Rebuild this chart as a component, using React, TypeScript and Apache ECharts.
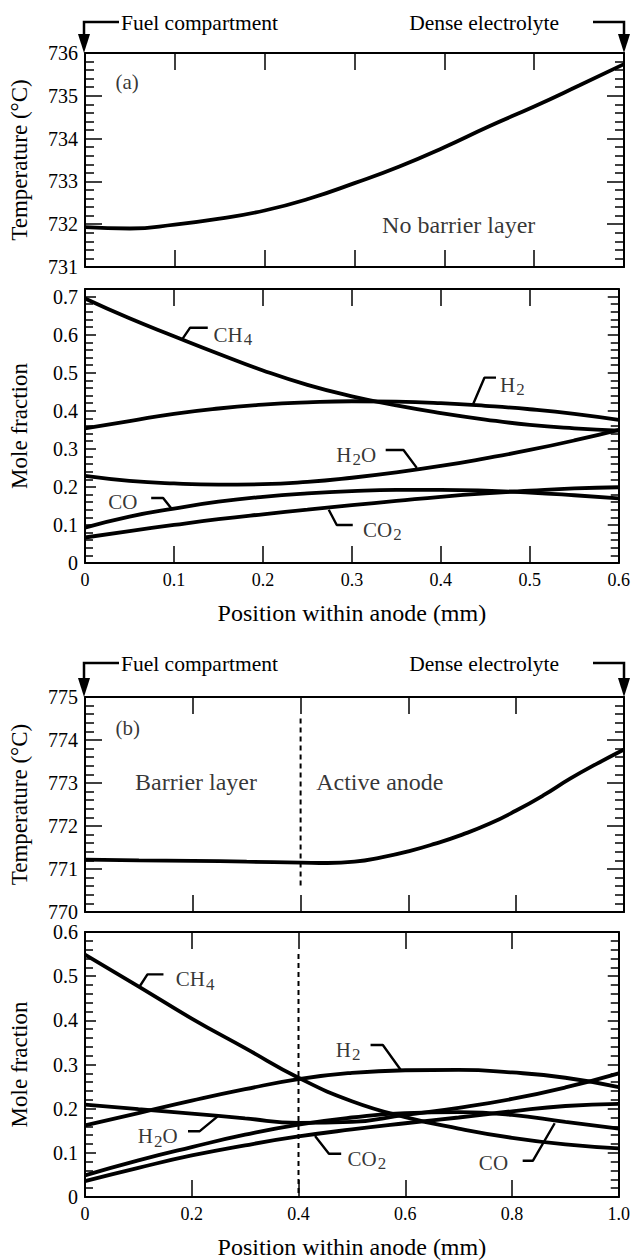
import React, { useEffect, useRef } from "react";
import * as echarts from "echarts";

// ---------- Panel (a): no barrier layer ----------
const xA = [0, 0.05, 0.1, 0.15, 0.2, 0.25, 0.3, 0.35, 0.4, 0.45, 0.5, 0.55, 0.6];
const tempA = [731.93, 731.9, 731.99, 732.13, 732.32, 732.6, 732.96, 733.35, 733.8, 734.29, 734.75, 735.24, 735.74];
const ch4A = [0.695, 0.643, 0.596, 0.55, 0.506, 0.468, 0.438, 0.414, 0.394, 0.377, 0.363, 0.354, 0.348];
const h2A = [0.354, 0.373, 0.392, 0.406, 0.416, 0.422, 0.425, 0.424, 0.42, 0.413, 0.404, 0.392, 0.376];
const h2oA = [0.229, 0.216, 0.209, 0.206, 0.207, 0.213, 0.224, 0.238, 0.255, 0.275, 0.297, 0.322, 0.35];
const coA = [0.093, 0.122, 0.143, 0.161, 0.174, 0.183, 0.189, 0.192, 0.192, 0.19, 0.185, 0.178, 0.17];
const co2A = [0.067, 0.084, 0.1, 0.115, 0.128, 0.14, 0.152, 0.163, 0.174, 0.183, 0.19, 0.196, 0.199];

// ---------- Panel (b): with barrier layer ----------
const xBT = [0, 0.1, 0.2, 0.3, 0.4, 0.45, 0.5, 0.55, 0.6, 0.65, 0.7, 0.75, 0.8, 0.85, 0.9, 0.95, 1.0];
const tempB = [771.22, 771.2, 771.19, 771.17, 771.15, 771.14, 771.17, 771.27, 771.41, 771.59, 771.8, 772.05, 772.36, 772.71, 773.1, 773.45, 773.78];
const xB = [0, 0.1, 0.2, 0.3, 0.4, 0.5, 0.6, 0.7, 0.8, 0.9, 1.0];
const ch4B = [0.549, 0.477, 0.404, 0.337, 0.27, 0.217, 0.181, 0.155, 0.134, 0.119, 0.11];
const h2B = [0.162, 0.19, 0.218, 0.244, 0.267, 0.281, 0.287, 0.288, 0.282, 0.27, 0.249];
const h2oB = [0.209, 0.199, 0.189, 0.178, 0.168, 0.17, 0.186, 0.202, 0.222, 0.248, 0.28];
const coB = [0.049, 0.083, 0.113, 0.141, 0.164, 0.18, 0.19, 0.192, 0.186, 0.17, 0.155];
const co2B = [0.036, 0.066, 0.094, 0.117, 0.137, 0.153, 0.167, 0.18, 0.194, 0.206, 0.211];

// ---------- Tick values ----------
const xTicksA = [0, 0.1, 0.2, 0.3, 0.4, 0.5, 0.6];
const xTicksB = [0, 0.2, 0.4, 0.6, 0.8, 1.0];
const tempTicksA = [731, 732, 733, 734, 735, 736];
const moleTicksA = [0, 0.1, 0.2, 0.3, 0.4, 0.5, 0.6, 0.7];
const moleMaxA = 0.72;
const tempTicksB = [770, 771, 772, 773, 774, 775];
const moleTicksB = [0, 0.1, 0.2, 0.3, 0.4, 0.5, 0.6];

// barrier / active anode interface
const interfaceX = 0.4;

const FONT = "Liberation Serif, serif";

// ---------- Layout ----------
const PLOT_L = 84;
const PLOT_R = 624;
const W = 633;
const H = 1260;
const grids = [
  { top: 53, height: 214 },
  { top: 289, height: 274 },
  { top: 697, height: 215 },
  { top: 932, height: 270 },
];

type Lbl = { main: string; sub?: string; tail?: string; x: number; y: number };

const speciesLabelsA: Lbl[] = [
  { main: "CH", sub: "4", x: 0.144, y: 0.6 },
  { main: "H", sub: "2", x: 0.466, y: 0.468 },
  { main: "H", sub: "2", tail: "O", x: 0.282, y: 0.284 },
  { main: "CO", x: 0.0256, y: 0.161 },
  { main: "CO", sub: "2", x: 0.312, y: 0.087 },
];
const leadersA = [
  [[0.109, 0.587], [0.118, 0.618], [0.138, 0.618]],
  [[0.436, 0.416], [0.449, 0.487], [0.462, 0.487]],
  [[0.338, 0.297], [0.358, 0.297], [0.373, 0.25]],
  [[0.0744, 0.171], [0.0878, 0.171], [0.0978, 0.141]],
  [[0.274, 0.14], [0.283, 0.1], [0.301, 0.1]],
];
const speciesLabelsB: Lbl[] = [
  { main: "CH", sub: "4", x: 0.169, y: 0.493 },
  { main: "H", sub: "2", x: 0.469, y: 0.333 },
  { main: "H", sub: "2", tail: "O", x: 0.098, y: 0.138 },
  { main: "CO", sub: "2", x: 0.491, y: 0.087 },
  { main: "CO", x: 0.737, y: 0.076 },
];
const leadersB = [
  [[0.102, 0.476], [0.117, 0.504], [0.147, 0.504]],
  [[0.535, 0.344], [0.558, 0.344], [0.592, 0.287]],
  [[0.193, 0.149], [0.215, 0.149], [0.248, 0.182]],
  [[0.431, 0.138], [0.457, 0.098], [0.48, 0.098]],
  [[0.82, 0.082], [0.839, 0.082], [0.88, 0.167]],
];

const panelTexts: { g: number; text: string; x: number; y: number; size: number; align: "left" | "center" }[] = [
  { g: 0, text: "(a)", x: 0.0333, y: 735.32, size: 21, align: "left" },
  { g: 0, text: "No barrier layer", x: 0.416, y: 731.98, size: 24, align: "center" },
  { g: 2, text: "(b)", x: 0.0556, y: 774.28, size: 21, align: "left" },
  { g: 2, text: "Barrier layer", x: 0.206, y: 773.02, size: 24, align: "center" },
  { g: 2, text: "Active anode", x: 0.547, y: 773.02, size: 24, align: "center" },
];

const pairs = (xs: number[], ys: number[]) => xs.map((x, i) => [x, ys[i]]);

function buildOption() {
  const panels = [
    { xTicks: xTicksA, xLabels: false, yTicks: tempTicksA, yMax: tempTicksA[tempTicksA.length - 1], yName: "Temperature (°C)", yMajor: 17, yMinor: 9 },
    { xTicks: xTicksA, xLabels: true, yTicks: moleTicksA, yMax: moleMaxA, yName: "Mole fraction", yMajor: 11, yMinor: 8 },
    { xTicks: xTicksB, xLabels: false, yTicks: tempTicksB, yMax: tempTicksB[tempTicksB.length - 1], yName: "Temperature (°C)", yMajor: 17, yMinor: 9 },
    { xTicks: xTicksB, xLabels: true, yTicks: moleTicksB, yMax: moleTicksB[moleTicksB.length - 1], yName: "Mole fraction", yMajor: 11, yMinor: 8 },
  ];
  const lineSt = { color: "#000", width: 2 };
  const tickSt = { color: "#000", width: 1.5 };
  const xAxis: any[] = [];
  const yAxis: any[] = [];
  panels.forEach((p, g) => {
    const xInt = p.xTicks[1] - p.xTicks[0];
    const yInt = p.yTicks[1] - p.yTicks[0];
    const xBase = {
      type: "value",
      gridIndex: g,
      min: p.xTicks[0],
      max: p.xTicks[p.xTicks.length - 1],
      interval: xInt,
      splitLine: { show: false },
      axisLine: { show: true, onZero: false, lineStyle: lineSt },
      axisTick: { show: true, inside: true, length: 17, lineStyle: tickSt },
    };
    xAxis.push({
      ...xBase,
      position: "bottom",
      axisLabel: {
        show: p.xLabels,
        margin: 8,
        fontSize: 18,
        fontFamily: FONT,
        color: "#000",
        formatter: (v: number) => (v === 0 ? "0" : g === 3 ? v.toFixed(1) : String(Math.round(v * 10) / 10)),
      },
      name: p.xLabels ? "Position within anode (mm)" : "",
      nameLocation: "middle",
      nameGap: 38,
      nameTextStyle: { fontSize: 24, fontFamily: FONT, fontWeight: "normal", color: "#000" },
    });
    xAxis.push({ ...xBase, position: "top", axisLabel: { show: false } });
    const yBase = {
      type: "value",
      gridIndex: g,
      min: p.yTicks[0],
      max: p.yMax,
      interval: yInt,
      splitLine: { show: false },
      axisLine: { show: true, onZero: false, lineStyle: lineSt },
      axisTick: { show: true, inside: true, length: p.yMajor, lineStyle: tickSt },
      minorTick: { show: true, splitNumber: 5, length: p.yMinor, lineStyle: tickSt },
      minorSplitLine: { show: false },
    };
    yAxis.push({
      ...yBase,
      position: "left",
      axisLabel: {
        show: true,
        margin: 7,
        fontSize: 20,
        fontFamily: FONT,
        color: "#000",
        showMaxLabel: g === 1 ? false : true,
        formatter: (v: number) => (g % 2 === 0 ? String(Math.round(v)) : v === 0 ? "0" : String(Math.round(v * 10) / 10)),
      },
      name: p.yName,
      nameLocation: "middle",
      nameGap: 54,
      nameTextStyle: { fontSize: 23, fontFamily: FONT, fontWeight: "normal", color: "#000" },
    });
    yAxis.push({ ...yBase, position: "right", axisLabel: { show: false } });
  });

  const series: any[] = [];
  const curve = (g: number, data: number[][]) => ({
    type: "line",
    xAxisIndex: 2 * g,
    yAxisIndex: 2 * g,
    data,
    smooth: true,
    symbol: "none",
    silent: true,
    z: 3,
    lineStyle: { color: "#000", width: 3.8 },
  });
  series.push(curve(0, pairs(xA, tempA)));
  [ch4A, h2A, h2oA, coA, co2A].forEach((ys) => series.push(curve(1, pairs(xA, ys))));
  series.push(curve(2, pairs(xBT, tempB)));
  [ch4B, h2B, h2oB, coB, co2B].forEach((ys) => series.push(curve(3, pairs(xB, ys))));

  const leader = (g: number, pts: number[][]) => ({
    type: "line",
    xAxisIndex: 2 * g,
    yAxisIndex: 2 * g,
    data: pts,
    symbol: "none",
    silent: true,
    z: 4,
    lineStyle: { color: "#000", width: 2.4 },
  });
  leadersA.forEach((pts) => series.push(leader(1, pts)));
  leadersB.forEach((pts) => series.push(leader(3, pts)));

  const dashed = (g: number, y0: number, y1: number) => ({
    type: "line",
    xAxisIndex: 2 * g,
    yAxisIndex: 2 * g,
    data: [
      [interfaceX, y0],
      [interfaceX, y1],
    ],
    symbol: "none",
    silent: true,
    z: 2,
    lineStyle: { color: "#000", width: 2, type: [5, 4] },
  });
  series.push(dashed(2, 774.5, 770.6));
  series.push(dashed(3, 0.55, 0));

  const rich = {
    m: { fontSize: 21, fontFamily: FONT, color: "#000" },
    s: { fontSize: 17, fontFamily: FONT, color: "#000", padding: [10, 0, 0, 1] },
  };
  const textSeries = (g: number, l: Lbl) => ({
    type: "scatter",
    xAxisIndex: 2 * g,
    yAxisIndex: 2 * g,
    data: [[l.x, l.y]],
    symbolSize: 1,
    silent: true,
    z: 5,
    itemStyle: { color: "rgba(0,0,0,0)" },
    label: {
      show: true,
      position: "right",
      distance: 0,
      formatter: `{m|${l.main}}` + (l.sub ? `{s|${l.sub}}` : "") + (l.tail ? `{m|${l.tail}}` : ""),
      rich,
    },
  });
  speciesLabelsA.forEach((l) => series.push(textSeries(1, l)));
  speciesLabelsB.forEach((l) => series.push(textSeries(3, l)));

  panelTexts.forEach((t) =>
    series.push({
      type: "scatter",
      xAxisIndex: 2 * t.g,
      yAxisIndex: 2 * t.g,
      data: [[t.x, t.y]],
      symbolSize: 1,
      silent: true,
      z: 5,
      itemStyle: { color: "rgba(0,0,0,0)" },
      label: {
        show: true,
        position: t.align === "left" ? "right" : "inside",
        distance: 0,
        formatter: t.text,
        fontSize: t.size,
        fontFamily: FONT,
        color: "#000",
      },
    })
  );

  // compartment brackets with arrows
  const graphic: any[] = [];
  const bracketRows = [
    { by: 22, top: grids[0].top },
    { by: 663, top: grids[2].top },
  ];
  bracketRows.forEach(({ by, top }) => {
    const stroke = { stroke: "#000", lineWidth: 2.5, fill: "none" };
    graphic.push({ type: "polyline", shape: { points: [[PLOT_L + 35, by], [PLOT_L, by], [PLOT_L, top - 16]] }, style: stroke });
    graphic.push({ type: "polygon", shape: { points: [[PLOT_L - 6, top - 19], [PLOT_L + 6, top - 19], [PLOT_L, top]] }, style: { fill: "#000" } });
    graphic.push({ type: "polyline", shape: { points: [[PLOT_R - 31, by], [PLOT_R, by], [PLOT_R, top - 16]] }, style: stroke });
    graphic.push({ type: "polygon", shape: { points: [[PLOT_R - 6, top - 19], [PLOT_R + 6, top - 19], [PLOT_R, top]] }, style: { fill: "#000" } });
    graphic.push({
      type: "text",
      x: PLOT_L + 37,
      y: by + 1,
      style: { text: "Fuel compartment", fill: "#000", font: "21.5px Liberation Serif, serif", align: "left", verticalAlign: "middle" },
    });
    graphic.push({
      type: "text",
      x: PLOT_R - 65,
      y: by + 1,
      style: { text: "Dense electrolyte", fill: "#000", font: "21.5px Liberation Serif, serif", align: "right", verticalAlign: "middle" },
    });
  });

  return {
    animation: false,
    backgroundColor: "#fff",
    textStyle: { fontFamily: FONT },
    grid: grids.map((gr) => ({ left: PLOT_L, width: PLOT_R - PLOT_L, top: gr.top, height: gr.height, containLabel: false })),
    xAxis,
    yAxis,
    series,
    graphic,
  };
}

export default function App() {
  const ref = useRef<HTMLDivElement>(null);
  useEffect(() => {
    if (!ref.current) return;
    const chart = echarts.init(ref.current, undefined, { renderer: "svg" });
    chart.setOption(buildOption() as any);
    return () => chart.dispose();
  }, []);
  return <div ref={ref} style={{ position: "absolute", left: 0, top: 0, width: W, height: H, background: "#fff" }} />;
}
